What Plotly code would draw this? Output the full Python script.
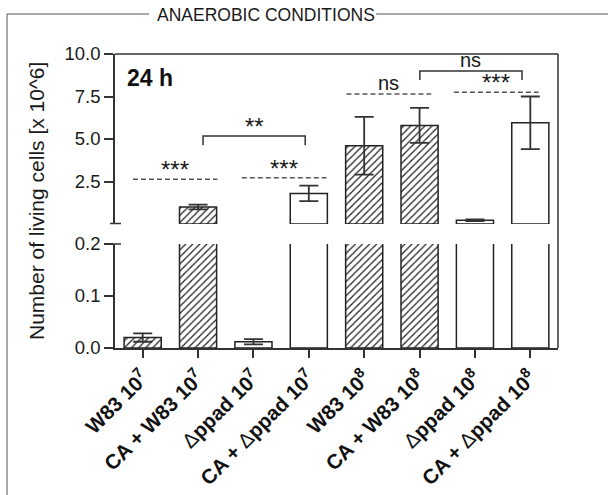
import plotly.graph_objects as go

# ---------------- data ----------------
categories = [
    "<b>W83 10<sup>7</sup></b>",
    "<b>CA + W83 10<sup>7</sup></b>",
    "Δ<b>ppad 10<sup>7</sup></b>",
    "<b>CA + </b>Δ<b>ppad 10<sup>7</sup></b>",
    "<b>W83 10<sup>8</sup></b>",
    "<b>CA + W83 10<sup>8</sup></b>",
    "Δ<b>ppad 10<sup>8</sup></b>",
    "<b>CA + </b>Δ<b>ppad 10<sup>8</sup></b>",
]
means = [0.02, 1.0, 0.012, 1.8, 4.6, 5.8, 0.22, 5.95]
errors = [0.008, 0.14, 0.005, 0.46, 1.7, 1.03, 0.05, 1.55]
hatched = [True, True, False, False, True, True, False, False]

lower_ticks = [0.0, 0.1, 0.2]
upper_ticks = [2.5, 5.0, 7.5, 10.0]
lower_range = [0, 0.2]
upper_range = [0, 10]

# significance: (x0, x1, y, label) dashed lines on the upper segment
sig_lines = [(-0.175, 1.35, 2.63, "***"),
             (1.79, 3.32, 2.72, "***"),
             (3.68, 5.21, 7.65, "ns"),
             (5.62, 7.15, 7.75, "***")]
# brackets: (x0, x1, y_top, y_leg, label)
brackets = [(1.09, 2.935, 5.18, 4.63, "**"),
            (5.005, 6.85, 9.0, 8.47, "ns")]

# ---------------- layout helpers ----------------
W, H = 608, 495
def px(x):
    return x / W
def py(y):
    return 1 - y / H

FONT = "Liberation Sans, Arial, sans-serif"
AX = "#333333"
x_idx = list(range(len(categories)))
shapes_pat = ["/" if h else "" for h in hatched]

lim = lower_range[1]
lower_errs = [e if m <= lim else None for m, e in zip(means, errors)]
upper_vals = [m if m > lim else None for m in means]
upper_errs = [e if m > lim else None for m, e in zip(means, errors)]

def bar(yvals, errs, yaxis):
    return go.Bar(
        x=x_idx, y=yvals, yaxis=yaxis, width=0.67,
        marker=dict(color="white",
                    line=dict(color="#222222", width=1.5),
                    pattern=dict(shape=shapes_pat, fgcolor="#222222", bgcolor="white",
                                 size=5, solidity=0.25)),
        error_y=dict(type="data", array=errs, visible=True, color=AX,
                     thickness=1.8, width=9.5),
        showlegend=False, hoverinfo="skip",
    )

fig = go.Figure()
fig.add_trace(bar(means, lower_errs, "y"))
fig.add_trace(bar(upper_vals, upper_errs, "y2"))

axis_common = dict(showline=True, linecolor=AX, linewidth=1.5, ticks="outside",
                   ticklen=9, tickwidth=1.5, tickcolor=AX, showgrid=False, zeroline=False,
                   automargin=False,
                   tickfont=dict(family=FONT, size=18.5, color="#1a1a1a"), tickformat=".1f")

fig.update_layout(
    template="none",
    width=W, height=H, margin=dict(l=0, r=0, t=0, b=0, pad=0), autosize=False,
    paper_bgcolor="white", plot_bgcolor="rgba(0,0,0,0)",
    font=dict(family=FONT, color="#1a1a1a"),
    xaxis=dict(domain=[px(115), px(558)], range=[-0.5, 7.5], anchor="y",
               tickvals=x_idx, ticktext=categories, tickangle=-45, automargin=False,
               showline=True, linecolor=AX, linewidth=1.5, ticks="outside",
               ticklen=8, tickwidth=1.5, tickcolor=AX, showgrid=False, zeroline=False,
               tickfont=dict(family=FONT, size=20.5, color="#111111")),
    yaxis=dict(domain=[py(348), py(244)], range=lower_range, tickvals=lower_ticks,
               anchor="x", **axis_common),
    yaxis2=dict(domain=[py(224), py(54)], range=upper_range, tickvals=upper_ticks,
                anchor="x", **axis_common),
)

shapes = []
line_col = "#555555"
# outer frame
shapes.append(dict(type="line", xref="paper", yref="paper", x0=px(7), x1=px(7), y0=py(14), y1=0,
                   line=dict(color=line_col, width=1)))
shapes.append(dict(type="line", xref="paper", yref="paper", x0=px(7), x1=px(149), y0=py(14), y1=py(14),
                   line=dict(color=line_col, width=1)))
shapes.append(dict(type="line", xref="paper", yref="paper", x0=px(376), x1=1, y0=py(14), y1=py(14),
                   line=dict(color=line_col, width=1)))
# top and right border of plot
shapes.append(dict(type="line", xref="paper", yref="paper", x0=px(115), x1=px(558), y0=py(54), y1=py(54),
                   line=dict(color=AX, width=1.5)))
shapes.append(dict(type="line", xref="paper", yref="paper", x0=px(558), x1=px(558), y0=py(54), y1=py(348),
                   line=dict(color=AX, width=1.5)))
# break caps
shapes.append(dict(type="line", xref="paper", yref="paper", x0=px(110), x1=px(121), y0=py(223.5), y1=py(223.5),
                   line=dict(color=AX, width=1.5)))
shapes.append(dict(type="line", xref="paper", yref="paper", x0=px(112), x1=px(121), y0=py(244), y1=py(244),
                   line=dict(color=AX, width=1.5)))

annotations = []
def sig_font(lab):
    return dict(family=FONT, size=24 if "*" in lab else 20, color="#1a1a1a")

for x0, x1, y, lab in sig_lines:
    shapes.append(dict(type="line", xref="x", yref="y2", x0=x0, x1=x1, y0=y, y1=y,
                       line=dict(color=line_col, width=1.5, dash="5px,3px")))
    annotations.append(dict(x=(x0 + x1) / 2, y=y, xref="x", yref="y2", text=lab, showarrow=False,
                            xanchor="center", yanchor="bottom",
                            yshift=-2 if "*" not in lab else -6, font=sig_font(lab)))
for x0, x1, yt, yl, lab in brackets:
    shapes.append(dict(type="path", xref="x", yref="y2",
                       path=f"M {x0},{yl} L {x0},{yt} L {x1},{yt} L {x1},{yl}",
                       line=dict(color=AX, width=1.5)))
    annotations.append(dict(x=(x0 + x1) / 2, y=yt, xref="x", yref="y2", text=lab, showarrow=False,
                            xanchor="center", yanchor="bottom",
                            yshift=-2 if "*" not in lab else -6, font=sig_font(lab)))

annotations.append(dict(x=px(150), y=py(78), xref="paper", yref="paper", text="<b>24 h</b>",
                        xanchor="center", yanchor="middle",
                        showarrow=False, font=dict(family=FONT, size=23, color="#111111")))
annotations.append(dict(x=px(266), y=py(15), xref="paper", yref="paper", text="ANAEROBIC CONDITIONS",
                        xanchor="center", yanchor="middle",
                        showarrow=False, font=dict(family=FONT, size=17.5, color="#1a1a1a")))
annotations.append(dict(x=px(37), y=py(201), xref="paper", yref="paper",
                        text="Number of living cells [x 10^6]", textangle=-90,
                        xanchor="center", yanchor="middle",
                        showarrow=False, font=dict(family=FONT, size=21, color="#1a1a1a")))

fig.update_layout(shapes=shapes, annotations=annotations)
fig.write_html("out.html", config={"displayModeBar": False},
               post_script="document.body.style.margin='0px';")
